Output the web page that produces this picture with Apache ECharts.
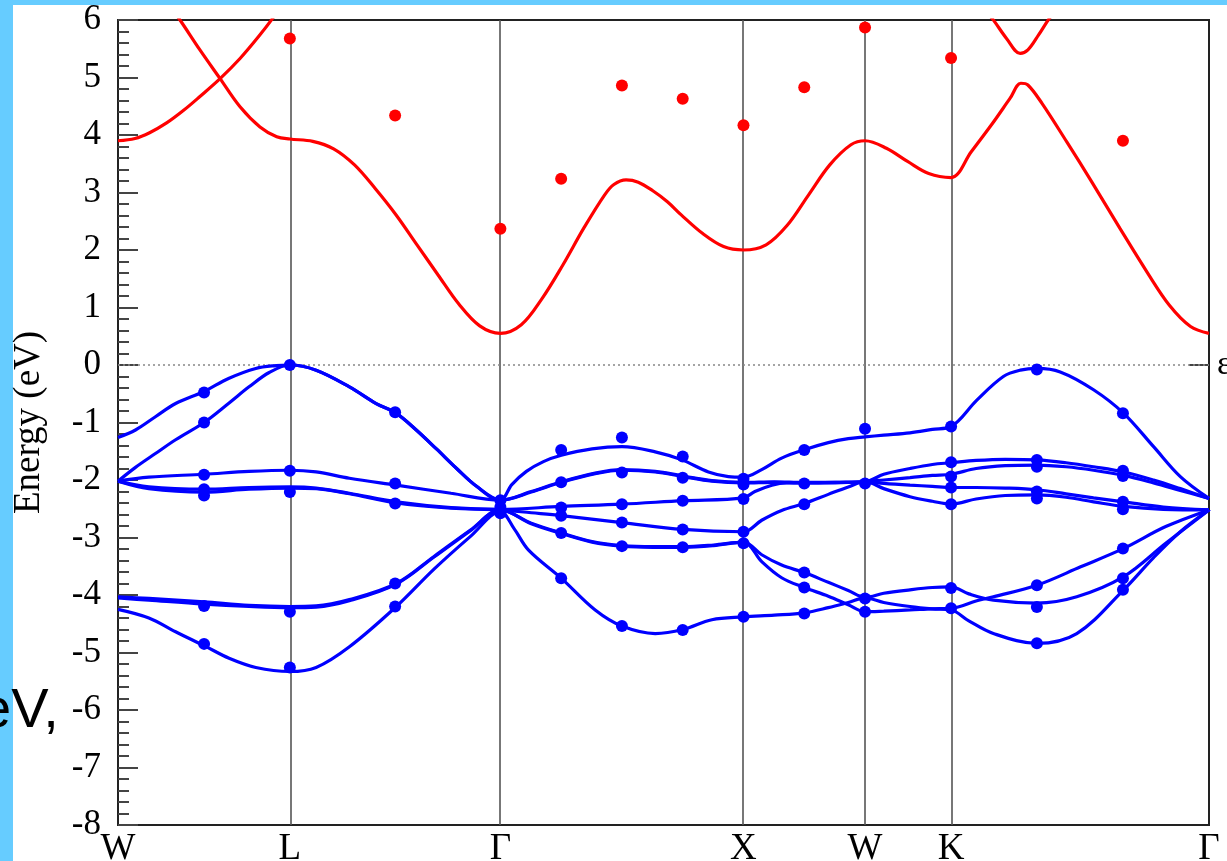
<!DOCTYPE html>
<html>
<head>
<meta charset="utf-8">
<script src="https://cdn.jsdelivr.net/npm/echarts@6/dist/echarts.min.js"></script>
<style>
html,body{margin:0;padding:0;background:#66ccff;overflow:hidden;}
#paper{position:absolute;left:13px;top:5px;width:1214px;height:856px;background:#fff;}
#chart{position:absolute;left:0;top:0;width:1227px;height:861px;}
</style>
</head>
<body>
<div id="paper"></div>
<div id="chart"></div>
<script>
// High-symmetry points along the k-path (units of 2π/a)
const kPoints = [0, 0.707, 1.573, 2.573, 3.073, 3.427, 4.488];
const kLabels = ['W', 'L', 'Γ', 'X', 'W', 'K', 'Γ'];
const yTicks = { min: -8, max: 6, step: 1 };

// Valence bands (blue lines)
const blueBand1 = [[0,-1.26],[0.072,-1.13],[0.154,-0.90],[0.237,-0.67],[0.354,-0.46],[0.457,-0.23],[0.567,-0.06],[0.65,-0.01],[0.707,0],
[0.815,-0.09],[0.952,-0.38],[1.062,-0.67],[1.145,-0.84],[1.227,-1.13],[1.31,-1.46],[1.393,-1.80],[1.475,-2.11],[1.573,-2.35],
[1.62,-2.08],[1.68,-1.85],[1.75,-1.68],[1.824,-1.57],[1.95,-1.46],[2.073,-1.42],[2.21,-1.51],[2.32,-1.65],[2.429,-1.86],[2.511,-1.94],[2.573,-1.95],
[2.648,-1.82],[2.73,-1.62],[2.826,-1.47],[2.922,-1.35],[3.004,-1.28],[3.073,-1.25],
[3.15,-1.22],[3.258,-1.18],[3.35,-1.12],[3.427,-1.07],
[3.533,-0.61],[3.642,-0.20],[3.712,-0.09],[3.78,-0.06],[3.876,-0.12],[4.013,-0.43],[4.137,-0.84],[4.26,-1.42],[4.37,-1.94],[4.488,-2.32]];
const blueBand2 = [[0,-2.02],[0.072,-1.78],[0.154,-1.54],[0.237,-1.30],[0.354,-1.0],[0.457,-0.66],[0.539,-0.38],[0.622,-0.13],[0.707,0],
[0.815,-0.09],[0.952,-0.38],[1.062,-0.67],[1.145,-0.84],[1.227,-1.13],[1.31,-1.46],[1.393,-1.80],[1.475,-2.11],[1.573,-2.35],
[1.70,-2.20],[1.824,-2.03],[1.963,-1.88],[2.073,-1.82],[2.21,-1.85],[2.324,-1.93],[2.443,-2.01],[2.573,-2.04],
[2.7,-2.03],[2.823,-2.04],[2.95,-2.04],[3.073,-2.03],
[3.15,-1.90],[3.258,-1.80],[3.35,-1.73],[3.427,-1.70],
[3.53,-1.66],[3.65,-1.64],[3.78,-1.65],[3.9,-1.70],[4.013,-1.77],[4.137,-1.86],[4.26,-2.0],[4.37,-2.15],[4.488,-2.32]];
const blueBand3 = [[0,-2.02],[0.127,-1.95],[0.354,-1.90],[0.539,-1.85],[0.707,-1.83],
[0.815,-1.86],[0.952,-1.97],[1.145,-2.09],[1.37,-2.23],[1.573,-2.35],
[1.70,-2.21],[1.824,-2.04],[1.963,-1.89],[2.073,-1.83],[2.21,-1.86],[2.324,-1.94],[2.443,-2.02],[2.573,-2.05],
[2.7,-2.04],[2.823,-2.05],[2.95,-2.05],[3.073,-2.03],
[3.15,-2.0],[3.258,-1.96],[3.35,-1.92],[3.427,-1.90],
[3.53,-1.80],[3.65,-1.75],[3.78,-1.74],[3.9,-1.77],[4.013,-1.83],[4.137,-1.92],[4.26,-2.05],[4.37,-2.18],[4.488,-2.32]];
const blueBand4 = [[0,-2.02],[0.127,-2.12],[0.354,-2.16],[0.539,-2.13],[0.707,-2.12],
[0.815,-2.14],[0.952,-2.23],[1.145,-2.38],[1.37,-2.48],[1.573,-2.51],
[1.824,-2.46],[2.073,-2.42],[2.324,-2.36],[2.573,-2.31],
[2.62,-2.20],[2.69,-2.09],[2.75,-2.05],[2.823,-2.05],[2.95,-2.04],[3.073,-2.03],
[3.15,-2.06],[3.258,-2.09],[3.35,-2.11],[3.427,-2.13],
[3.53,-2.13],[3.65,-2.14],[3.78,-2.17],[3.9,-2.24],[4.013,-2.31],[4.137,-2.38],[4.3,-2.47],[4.488,-2.52]];
const blueBand5 = [[0,-2.02],[0.127,-2.15],[0.354,-2.21],[0.539,-2.16],[0.707,-2.14],
[0.815,-2.15],[0.952,-2.24],[1.145,-2.40],[1.37,-2.49],[1.573,-2.52],
[1.70,-2.57],[1.824,-2.62],[2.073,-2.74],[2.324,-2.86],[2.573,-2.90],
[2.648,-2.70],[2.73,-2.53],[2.823,-2.41],[2.922,-2.25],[3.004,-2.12],[3.073,-2.03],
[3.15,-2.15],[3.258,-2.29],[3.35,-2.37],[3.427,-2.42],
[3.53,-2.33],[3.65,-2.27],[3.78,-2.26],[3.9,-2.30],[4.013,-2.38],[4.137,-2.46],[4.3,-2.51],[4.488,-2.52]];
const blueBand6 = [[0,-4.03],[0.127,-4.06],[0.354,-4.12],[0.539,-4.18],[0.707,-4.20],
[0.815,-4.19],[0.952,-4.08],[1.145,-3.80],[1.30,-3.33],[1.45,-2.87],[1.573,-2.52],
[1.70,-2.75],[1.824,-2.92],[1.95,-3.07],[2.073,-3.14],[2.2,-3.16],[2.324,-3.16],[2.45,-3.13],[2.573,-3.08],
[2.648,-3.30],[2.73,-3.48],[2.823,-3.61],[2.922,-3.78],[3.004,-3.92],[3.073,-4.04],
[3.15,-3.97],[3.258,-3.91],[3.35,-3.87],[3.427,-3.86],
[3.50,-3.98],[3.601,-4.09],[3.78,-4.14],[3.944,-4.03],[4.137,-3.68],[4.31,-3.10],[4.488,-2.52]];
const blueBand7 = [[0,-4.05],[0.127,-4.09],[0.354,-4.16],[0.539,-4.20],[0.707,-4.22],
[0.815,-4.21],[0.952,-4.10],[1.145,-3.81],[1.30,-3.34],[1.45,-2.88],[1.573,-2.52],
[1.70,-2.76],[1.824,-2.93],[1.95,-3.08],[2.073,-3.15],[2.2,-3.17],[2.324,-3.17],[2.45,-3.14],[2.573,-3.08],
[2.648,-3.42],[2.73,-3.70],[2.823,-3.87],[2.922,-4.02],[3.004,-4.17],[3.073,-4.29],
[3.15,-4.28],[3.258,-4.26],[3.35,-4.24],[3.427,-4.23],
[3.533,-4.10],[3.601,-4.03],[3.78,-3.83],[3.96,-3.51],[4.137,-3.19],[4.31,-2.81],[4.488,-2.52]];
const blueBand8 = [[0,-4.25],[0.127,-4.40],[0.237,-4.64],[0.354,-4.88],[0.457,-5.10],[0.567,-5.26],[0.707,-5.33],
[0.815,-5.26],[0.952,-4.90],[1.145,-4.20],[1.30,-3.55],[1.45,-2.98],[1.573,-2.55],
[1.63,-2.85],[1.689,-3.22],[1.824,-3.71],[1.963,-4.26],[2.073,-4.54],[2.21,-4.67],[2.324,-4.60],[2.443,-4.43],[2.573,-4.38],
[2.70,-4.35],[2.823,-4.31],[2.922,-4.22],[3.004,-4.13],[3.073,-4.05],
[3.15,-4.13],[3.258,-4.20],[3.35,-4.24],[3.427,-4.26],
[3.50,-4.45],[3.601,-4.67],[3.78,-4.84],[3.944,-4.67],[4.137,-3.91],[4.26,-3.35],[4.37,-2.90],[4.488,-2.52]];

// Conduction bands (red lines)
const redBandA = [[0,3.90],[0.07,3.94],[0.13,4.04],[0.2,4.21],[0.27,4.43],[0.337,4.67],[0.42,4.98],[0.502,5.33],[0.58,5.72],[0.64,6.05],[0.707,6.45]];
const redBandB = [[0,7.5],[0.13,6.75],[0.255,6.0],[0.337,5.48],[0.42,4.98],[0.502,4.49],[0.584,4.14],[0.653,3.97],[0.707,3.93],
[0.801,3.89],[0.887,3.76],[0.973,3.48],[1.058,3.07],[1.144,2.61],[1.23,2.09],[1.316,1.57],[1.402,1.06],[1.488,0.68],[1.573,0.55],
[1.659,0.70],[1.745,1.16],[1.83,1.74],[1.916,2.38],[2.002,2.96],[2.04,3.14],[2.09,3.22],[2.14,3.18],[2.2,3.03],[2.26,2.84],[2.317,2.61],[2.404,2.29],[2.491,2.06],[2.573,2.0],
[2.666,2.09],[2.753,2.43],[2.841,2.96],[2.928,3.48],[3.015,3.83],[3.073,3.90],
[3.161,3.77],[3.248,3.54],[3.335,3.33],[3.427,3.26],
[3.510,3.71],[3.597,4.20],[3.670,4.64],[3.714,4.90],[3.743,4.87],[3.801,4.55],[3.903,3.88],[4.005,3.19],[4.121,2.38],[4.237,1.59],[4.325,1.04],[4.412,0.67],[4.488,0.55]];
const redBandC = [[3.51,6.45],[3.597,6.02],[3.655,5.68],[3.711,5.42],[3.743,5.48],[3.787,5.74],[3.830,6.02],[3.9,6.40]];

// Computed points (dots)
const redDots = [[0.707,5.68],[1.140,4.34],[1.573,2.37],[1.823,3.24],[2.073,4.86],[2.323,4.63],[2.573,4.17],[2.823,4.83],[3.073,5.87],[3.427,5.34],[4.134,3.90]];
const blueDots = [
[0.354,-0.48],[0.354,-1.00],[0.354,-1.91],[0.354,-2.16],[0.354,-2.27],[0.354,-4.19],[0.354,-4.85],
[0.707,0],[0.707,-1.84],[0.707,-2.21],[0.707,-4.29],[0.707,-5.26],
[1.140,-0.82],[1.140,-2.06],[1.140,-2.41],[1.140,-3.80],[1.140,-4.20],
[1.573,-2.35],[1.573,-2.47],[1.573,-2.58],
[1.823,-1.48],[1.823,-2.04],[1.823,-2.48],[1.823,-2.62],[1.823,-2.92],[1.823,-3.71],
[2.073,-1.26],[2.073,-1.87],[2.073,-2.42],[2.073,-2.74],[2.073,-3.15],[2.073,-4.54],
[2.323,-1.59],[2.323,-1.96],[2.323,-2.36],[2.323,-2.86],[2.323,-3.17],[2.323,-4.61],
[2.573,-1.98],[2.573,-2.08],[2.573,-2.33],[2.573,-2.90],[2.573,-3.10],[2.573,-4.38],
[2.823,-1.48],[2.823,-2.06],[2.823,-2.42],[2.823,-3.61],[2.823,-3.87],[2.823,-4.32],
[3.073,-1.11],[3.073,-2.06],[3.073,-4.06],[3.073,-4.29],
[3.427,-1.07],[3.427,-1.69],[3.427,-1.94],[3.427,-2.13],[3.427,-2.42],[3.427,-3.88],[3.427,-4.23],
[3.780,-0.08],[3.780,-1.65],[3.780,-1.77],[3.780,-2.20],[3.780,-2.32],[3.780,-3.83],[3.780,-4.21],[3.780,-4.84],
[4.134,-0.84],[4.134,-1.84],[4.134,-1.93],[4.134,-2.38],[4.134,-2.51],[4.134,-3.19],[4.134,-3.71],[4.134,-3.91]];

const fermiLevel = 0;
const yTitle = 'Energy (eV)';
const rightLabel = 'ε';
const sideText = 'eV,';

const SERIF = '"Liberation Serif", "Times New Roman", serif';
const BLUE = '#0000ff', RED = '#ff0000';

function bandSeries(data, color) {
  return { type: 'line', data: data, showSymbol: false, smooth: 0.35, clip: true, z: 3,
    lineStyle: { color: color, width: 3.2 }, silent: true };
}

const chart = echarts.init(document.getElementById('chart'), null, { renderer: 'canvas' });
const series = [
  { type: 'line', data: [], z: 1, silent: true,
    markLine: { silent: true, z: 1, symbol: ['none', 'none'], label: { show: false },
      lineStyle: { color: '#555', width: 1.6, type: 'solid' },
      data: kPoints.slice(1, -1).map(k => ({ xAxis: k })) } },
  { type: 'line', data: [], z: 1, silent: true,
    markLine: { silent: true, z: 1, symbol: ['none', 'none'], label: { show: false },
      lineStyle: { color: '#888', width: 1.6, type: [2, 3] },
      data: [{ yAxis: fermiLevel }] } }
];
[blueBand1, blueBand2, blueBand3, blueBand4, blueBand5, blueBand6, blueBand7, blueBand8]
  .forEach(b => series.push(bandSeries(b, BLUE)));
[redBandA, redBandB, redBandC].forEach(b => series.push(bandSeries(b, RED)));
series.push({ type: 'scatter', data: blueDots, symbolSize: 12, z: 4, silent: true, itemStyle: { color: BLUE, opacity: 1 } });
series.push({ type: 'scatter', data: redDots, symbolSize: 12, z: 4, silent: true, itemStyle: { color: RED, opacity: 1 } });

chart.setOption({
  animation: false,
  grid: { left: 118, right: 18, top: 20, bottom: 36, show: true, borderColor: '#222', borderWidth: 2,
    backgroundColor: 'transparent', containLabel: false, outerBoundsMode: 'none' },
  xAxis: {
    type: 'value', min: kPoints[0], max: kPoints[kPoints.length - 1],
    axisLine: { show: false }, axisTick: { show: false }, splitLine: { show: false },
    axisLabel: {
      customValues: kPoints,
      formatter: v => { const i = kPoints.findIndex(k => Math.abs(k - v) < 1e-6); return i >= 0 ? kLabels[i] : ''; },
      fontFamily: SERIF, fontSize: 37, color: '#000', margin: 6
    }
  },
  yAxis: [{
    type: 'value', min: yTicks.min, max: yTicks.max, interval: yTicks.step,
    axisLine: { show: false }, splitLine: { show: false },
    axisTick: { show: true, inside: true, length: 20, lineStyle: { color: '#444', width: 2 } },
    minorTick: { show: true, splitNumber: 5, length: 11, lineStyle: { color: '#444', width: 2 } },
    axisLabel: { fontFamily: SERIF, fontSize: 35, color: '#000', margin: 17 },
    name: yTitle, nameLocation: 'middle', nameRotate: 90, nameGap: 70,
    nameTextStyle: { fontFamily: SERIF, fontSize: 37, color: '#000' }
  }, {
    type: 'value', position: 'right', min: yTicks.min, max: yTicks.max, interval: yTicks.step,
    axisLine: { show: false }, splitLine: { show: false },
    axisTick: { show: true, inside: true, length: 20, customValues: [fermiLevel], lineStyle: { color: '#444', width: 2 } },
    axisLabel: { customValues: [fermiLevel], formatter: () => rightLabel, fontFamily: SERIF, fontSize: 34, color: '#000', margin: 8 }
  }],
  graphic: [{
    type: 'text', left: -20, top: 684, z: 100, silent: true,
    style: { text: sideText, font: '56px "Liberation Sans", Arial, sans-serif', fill: '#000' }
  }],
  series: series
});
</script>
</body>
</html>
